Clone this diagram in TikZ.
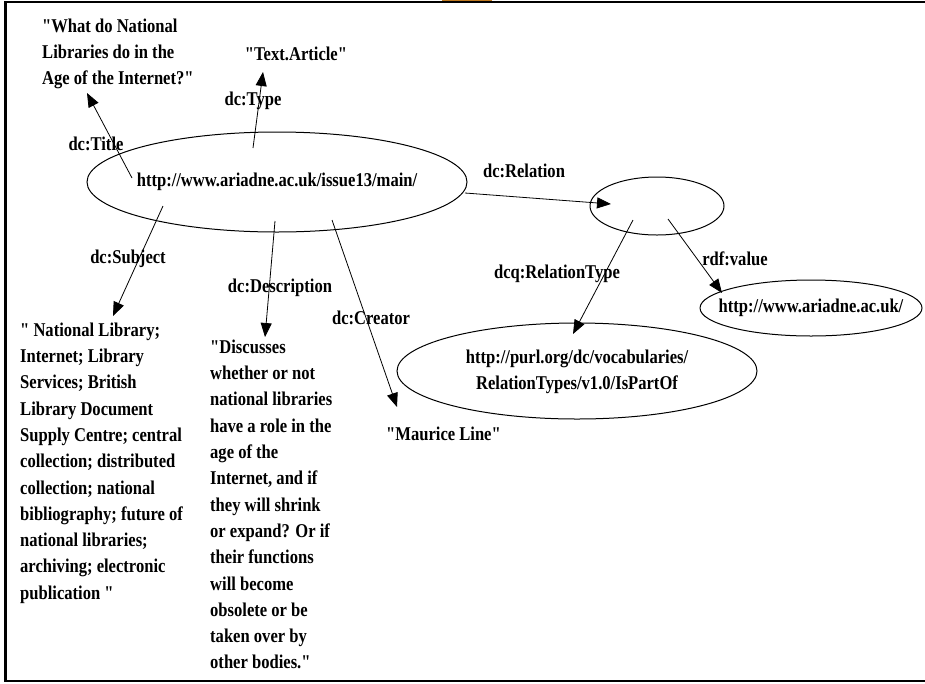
\documentclass[tikz,border=0pt]{standalone}
\usepackage{fontspec}
\setmainfont{Liberation Serif}[FakeStretch=0.85, Ligatures=TeXOff]
\usetikzlibrary{shapes.geometric,arrows.meta,calc}
\definecolor{artifact}{RGB}{190,120,30}
\newcommand{\qd}{\char34\relax}
\begin{document}
\begin{tikzpicture}[x=1pt,y=-1pt,
  every node/.style={font=\bfseries\fontsize{19.5}{26.3}\selectfont, inner sep=0pt},
  res/.style={ellipse, draw, line width=1pt},
  lit/.style={align=left, anchor=west},
  arr/.style={-{Triangle[length=14pt,width=11pt]}, line width=0.8pt}]
\useasboundingbox (0,0) rectangle (925,683);
\fill[artifact] (442,0) rectangle (492,1.2);
\draw[line width=2.5pt] (925,2) -- (5.5,2) -- (5.5,681) -- (925,681);

% resources
\node[res, minimum width=380pt, minimum height=100pt] (main) at (277,182)
  {\makebox[0pt]{http://www.ariadne.ac.uk/issue13/main/}};
\node[res, minimum width=134pt, minimum height=58pt] (rel) at (657,206) {};
\node[res, minimum width=360pt, minimum height=96pt] (rtype) at (577,371)
  {\makebox[0pt]{\begin{tabular}{@{}c@{}}http://purl.org/dc/vocabularies/\\RelationTypes/v1.0/IsPartOf\end{tabular}}};
\node[res, minimum width=222pt, minimum height=56pt] (ariadne) at (811,308)
  {\makebox[0pt]{http://www.ariadne.ac.uk/}};

% literals
\node[lit] (title) at (42,54) {\qd What do National\\Libraries do in the\\Age of the Internet?\qd};
\node (textart) at (296,54) {\qd Text.Article\qd};
\node[lit] (subject) at (20,463) {\qd\ National Library;\\Internet; Library\\Services; British\\Library Document\\Supply Centre; central\\collection; distributed\\collection; national\\bibliography; future of\\national libraries;\\archiving; electronic\\publication \qd};
\node[lit] (desc) at (210,504.5) {\qd Discusses\\whether or not\\national libraries\\have a role in the\\age of the\\Internet, and if\\they will shrink\\or expand? Or if\\their functions\\will become\\obsolete or be\\taken over by\\other bodies.\qd};
\node[lit] (maurice) at (386,434) {\qd Maurice Line\qd};

% property labels
\node (lTitle) at (96,144) {dc:Title};
\node (lType) at (253,101) {dc:Type};
\node (lRel) at (524,171) {dc:Relation};
\node (lSubj) at (128,259) {dc:Subject};
\node (lDesc) at (280,288) {dc:Description};
\node (lCre) at (371,318) {dc:Creator};
\node (lRT) at (557,274) {dcq:RelationType};
\node (lVal) at (735,259) {rdf:value};

% connectors
\draw[arr] ($(main.center)+(-145,-4)$) -- ($(title.west)+(45,39)$);
\draw[arr] ($(main.center)+(-24,-34)$) -- ($(textart.center)+(-33,18)$);
\draw[arr] ($(main.center)+(188,11)$) -- ($(rel.center)+(-46,-2)$);
\draw[arr] ($(main.center)+(-114,24)$) -- ($(subject.west)+(93,-147)$);
\draw[arr] ($(main.center)+(-2,39)$) -- ($(desc.west)+(55,-167.5)$);
\draw[arr] ($(main.center)+(55,38)$) -- ($(maurice.west)+(11,-27)$);
\draw[arr] ($(rel.center)+(-24,14)$) -- ($(rtype.center)+(-4,-37)$);
\draw[arr] ($(rel.center)+(11,13)$) -- ($(ariadne.center)+(-89,-15)$);
\end{tikzpicture}
\end{document}
